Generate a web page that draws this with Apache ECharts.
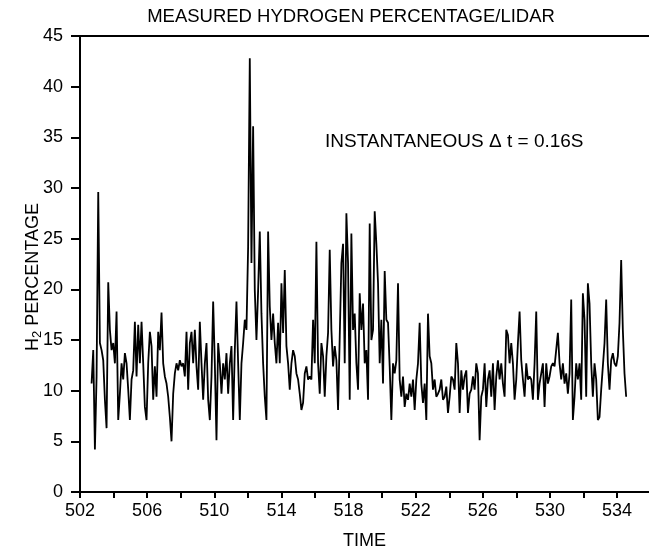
<!DOCTYPE html>
<html>
<head>
<meta charset="utf-8">
<script src="https://cdn.jsdelivr.net/npm/echarts@6/dist/echarts.min.js"></script>
<style>html,body{margin:0;padding:0;background:#fff}#c{width:649px;height:547px}</style>
</head>
<body>
<div id="c"></div>
<script>
// ---- data ----
const tStart = 502.69;   // first sample time
const tEnd = 534.54;     // last sample time
const h2Part1 = [10.7,14.0,4.2,11.4,29.6,14.7,14.0,13.0,9.1,6.3,20.7,16.0,14.0,14.7,12.7,17.8,7.1,9.7,12.7,11.1,13.7,12.7,10.1,7.1,11.1,12.0,16.8,11.4,16.5,12.7,16.8,12.7,8.4,7.1,12.7,15.8,14.4,9.1,12.4,9.4,15.8,14.0,17.7,12.7,11.4,10.7,9.4,7.4,5.0,9.7,11.7,12.7,12.0,13.0,12.4,12.7,11.4,15.8,10.1,14.7,15.8,12.7,16.0,12.4,10.1,16.8,12.7,9.1,12.7,14.7,9.1,7.1];
const h2Part2 = [11.4,18.8,12.7,5.1,14.7,12.7,9.7,12.7,11.1,13.7,9.7,12.7,14.4,7.1,14.0,18.8,12.7,7.1,12.7,14.7,17.0,16.0,24.2,42.8,22.6,36.1,19.9,15.0,19.9,25.7,17.6,12.7,9.4,7.1,25.7,18.3,15.0,17.6,14.7,12.7,16.7,12.7,20.6,15.7,21.9,14.4,12.7,10.1,12.7,14.0,13.4,11.7,11.1,9.7,8.1,8.8,11.7,12.4,11.1,11.4,11.1,17.0,12.7,24.7,12.7,9.7,14.7,13.4,9.4,13.4,15.7,23.9,16.0,12.4,14.4,13.0,8.1,15.3];
const h2Part3 = [22.6,24.5,12.7,27.5,22.6,9.1,25.5,16.0,17.6,12.7,10.1,19.6,16.0,18.6,12.7,14.0,9.1,26.5,15.0,16.0,27.7,24.5,20.6,12.7,17.0,10.7,21.8,17.0,16.7,12.4,7.1,12.7,11.7,13.0,20.6,11.1,9.4,11.4,8.4,9.7,9.1,10.7,9.4,11.1,8.1,11.1,12.7,16.7,10.7,8.8,10.7,7.1,17.6,13.4,12.7,10.1,11.1,9.4,9.7,10.1,11.1,9.1,9.4,10.4,7.8,9.4,11.4,11.1,10.1,14.7,12.7,7.8,12.0,10.1,11.4,12.0,7.8,9.7];
const h2Part4 = [10.1,11.4,10.1,12.7,11.7,5.1,9.4,10.1,12.7,8.4,11.1,12.0,9.4,12.7,8.1,11.4,13.0,11.1,12.7,10.7,9.4,16.0,15.5,12.7,14.7,12.7,9.1,11.1,14.7,17.8,13.0,11.1,9.4,12.7,11.1,11.4,11.1,9.1,12.7,17.8,9.1,10.7,11.7,12.7,8.4,12.7,10.7,11.4,12.4,12.7,12.4,12.4,15.7,12.7,11.1,12.7,10.7,11.7,9.7,11.7,19.0,7.1,9.4,12.7,11.1,12.7,9.1,19.6,17.0,9.4,20.6,18.6,12.7,9.4,12.7,11.1,7.1,7.4,10.1,12.4,14.7,19.0,12.7,10.1,13.0,13.7,12.7,12.4,13.4,16.7,22.9,16.0,11.7,9.4];
const xTickLabels = [502,506,510,514,518,522,526,530,534];
const yTickLabels = [0,5,10,15,20,25,30,35,40,45];

const h2 = h2Part1.concat(h2Part2, h2Part3, h2Part4);
const step = (tEnd - tStart) / (h2.length - 1);
const seriesData = h2.map((v, i) => [tStart + i * step, v]);

const FONT = 'Liberation Sans, Arial, sans-serif';
const INK = '#000';
const chart = echarts.init(document.getElementById('c'), null, {renderer: 'canvas'});
chart.setOption({
  animation: false,
  backgroundColor: '#fff',
  title: {
    text: 'MEASURED HYDROGEN PERCENTAGE/LIDAR',
    left: 351, top: 7, textAlign: 'center', padding: 0,
    textStyle: {fontFamily: FONT, fontSize: 18.5, fontWeight: 'normal', color: INK}
  },
  grid: {left: 80, right: 0, top: 36, bottom: 55, outerBoundsMode: 'none', containLabel: false},
  xAxis: [{
    type: 'value', min: 502, max: 535.9, interval: 2,
    name: 'TIME', nameLocation: 'middle', nameGap: 49,
    nameTextStyle: {fontFamily: FONT, fontSize: 18, color: INK, verticalAlign: 'middle'},
    axisLine: {show: true, lineStyle: {color: INK, width: 2}},
    axisTick: {show: true, length: 6, lineStyle: {color: INK, width: 2}},
    axisLabel: {
      margin: 10, fontFamily: FONT, fontSize: 18, color: INK,
      showMaxLabel: false,
      formatter: v => xTickLabels.indexOf(v) >= 0 ? String(v) : ''
    },
    splitLine: {show: false}
  }, {
    type: 'value', position: 'top', min: 502, max: 535.9,
    axisLine: {show: true, lineStyle: {color: INK, width: 2}},
    axisTick: {show: false}, axisLabel: {show: false}, splitLine: {show: false}
  }],
  yAxis: {
    type: 'value', min: 0, max: 45, interval: 5,
    axisLine: {show: true, lineStyle: {color: INK, width: 2}},
    axisTick: {show: true, length: 9, lineStyle: {color: INK, width: 2}},
    axisLabel: {margin: 17, fontFamily: FONT, fontSize: 18, color: INK,
      formatter: v => yTickLabels.indexOf(v) >= 0 ? String(v) : ''},
    splitLine: {show: false}
  },
  graphic: [{
    type: 'text', x: 33, y: 277, rotation: Math.PI / 2,
    style: {
      text: '{a|H}{s|2}{a| PERCENTAGE}', align: 'center', verticalAlign: 'middle',
      rich: {
        a: {fontFamily: FONT, fontSize: 18, fill: INK},
        s: {fontFamily: FONT, fontSize: 13, fill: INK, verticalAlign: 'bottom', padding: [9, 0, 0, 0]}
      }
    }
  }, {
    type: 'text', x: 325, y: 142,
    style: {text: 'INSTANTANEOUS \u0394 t = 0.16S', font: '19px ' + FONT, fill: INK, verticalAlign: 'middle'}
  }],
  series: [{
    type: 'line', data: seriesData, showSymbol: false, symbol: 'none',
    lineStyle: {color: '#000', width: 1.8}, clip: true
  }]
});
</script>
</body>
</html>
